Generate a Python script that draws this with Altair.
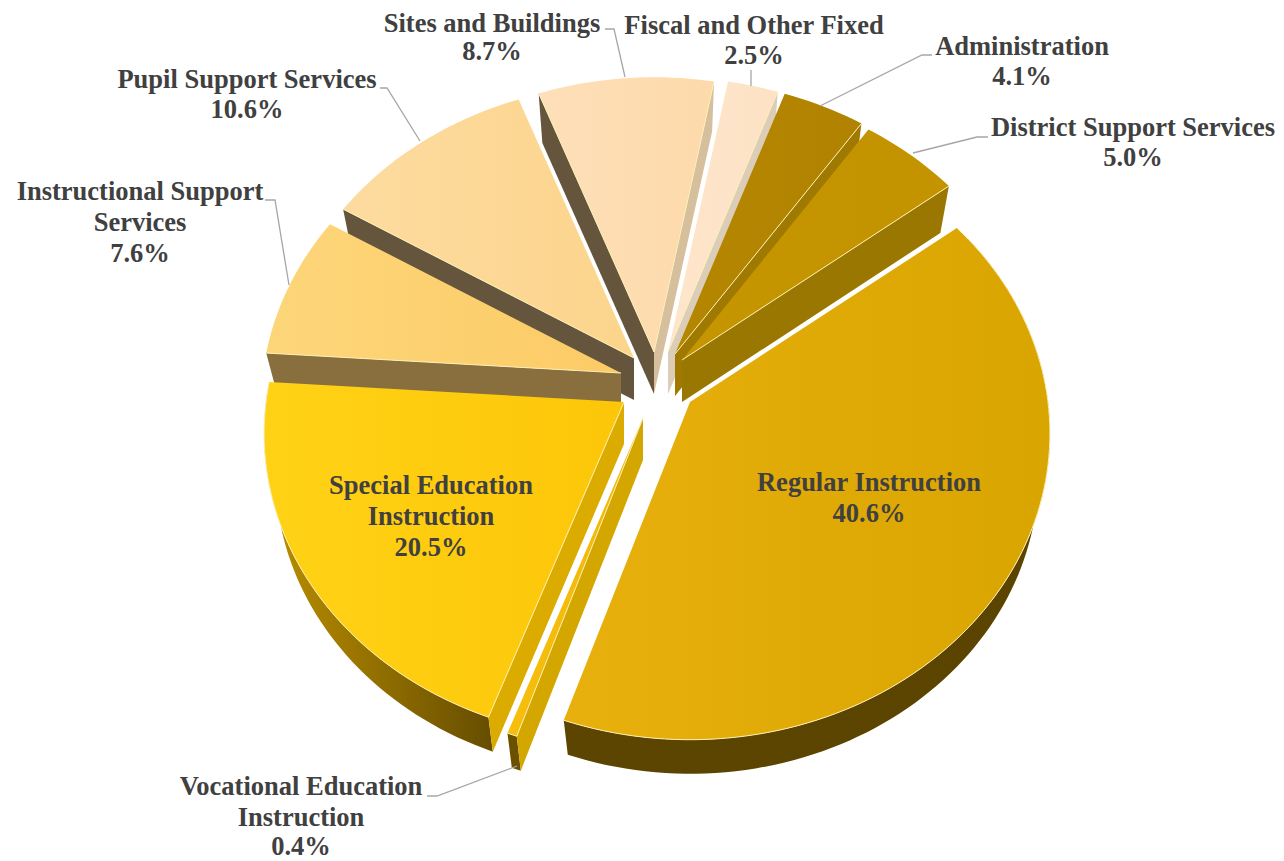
import numpy as np
import pandas as pd
import altair as alt

CATEGORIES = ["Regular Instruction", "Vocational Education Instruction", "Special Education Instruction",
              "Instructional Support Services", "Pupil Support Services", "Sites and Buildings",
              "Fiscal and Other Fixed", "Administration", "District Support Services"]
VALUES = [40.6, 0.4, 20.5, 7.6, 10.6, 8.7, 2.5, 4.1, 5.0]

# layout of the exploded, tilted pie
START = 52.4
R, KR, S = 358.0, 303.0, 0.1028
APEX = [(690, 402), (643, 418), (624, 402), (621, 373), (634, 358), (654, 352), (668, 352), (675, 354), (682, 360)]
PAINT = [5, 6, 7, 8, 4, 3, 2, 1, 0]


def grad(a, b, x2=1, y2=0):
    return alt.Gradient(gradient="linear", x1=0, y1=0, x2=x2, y2=y2,
                        stops=[alt.GradientStop(offset=0, color=a), alt.GradientStop(offset=1, color=b)])


TOP = [("#e8b00d", "#d9a500"), ("#f7bf0c", "#f0b708"), ("#ffd216", "#fdc608"), ("#fdd67a", "#fccb66"),
       ("#fddba0", "#fcd58c"), ("#fedfb9", "#fddaaa"), ("#fee6cc", "#fde2c4"), ("#b58700", "#b08200"),
       ("#c69600", "#c39300")]
# walls: (first edge colour or None, second edge colour or None, rim gradient or None)
WALLS = [(None, None, ("#5c4500", "#5a4400")),
         ("#d4a600", None, ("#6b5000", "#6b5000")),
         ("#dcab00", None, ("#bd9000", "#664d00")),
         ("#8a6f3e", None, None),
         ("#64553c", None, None),
         ("#64553c", "#d6bf9d", None),
         (None, "#dccdb8", None),
         (None, "#a07a00", None),
         (None, "#9a7700", None)]
EDGE = "#fbefb4"

bounds = np.concatenate([[0], np.cumsum(VALUES)]) * 3.6 + START


def top_pt(i, theta, r=1.0):
    t = np.radians(theta)
    u, v = r * np.cos(t), r * np.sin(t)
    d = 1 + S * u
    return APEX[i][0] + R * v / d, APEX[i][1] - KR * u / d, u


def low_pt(i, theta, r=1.0):
    x, y, u = top_pt(i, theta, r)
    return APEX[i][0] + (x - APEX[i][0]) * 0.968, y + 42 + 8 * u


projection = alt.Projection(type="identity", scale=1, translate=[-8, -8])


def poly(points, **style):
    ring = [[float(a), float(b)] for a, b in points]
    ring.append(ring[0])
    feat = {"type": "Feature", "properties": {}, "geometry": {"type": "Polygon", "coordinates": [ring]}}
    return alt.Chart(alt.InlineData(values=[feat])).mark_geoshape(filled=True, strokeWidth=0, **style).project(**projection.to_dict())


def polyline(points, **style):
    pts = [[float(a), float(b)] for a, b in points]
    feat = {"type": "Feature", "properties": {}, "geometry": {"type": "LineString", "coordinates": pts}}
    return alt.Chart(alt.InlineData(values=[feat])).mark_geoshape(filled=False, **style).project(**projection.to_dict())


layers = []
for i in PAINT:
    a0, a1 = bounds[i], bounds[i + 1]
    arc = np.linspace(a0, a1, max(4, int((a1 - a0) / 1.5) + 2))
    tops = [top_pt(i, t)[:2] for t in arc]
    lows = [low_pt(i, t) for t in arc]
    apex_t = (APEX[i][0], APEX[i][1])
    apex_l = low_pt(i, 0, 0.0)
    w0, w1, rim = WALLS[i]
    if rim:
        layers.append(poly(tops + lows[::-1], fill=grad(rim[0], rim[1])))
    if w0:
        layers.append(poly([apex_t, tops[0], lows[0], apex_l], fill=w0))
    if w1:
        layers.append(poly([apex_t, tops[-1], lows[-1], apex_l], fill=w1))
    layers.append(poly([apex_t] + tops, fill=grad(*TOP[i])))
    if rim:
        layers.append(polyline(tops, stroke=EDGE, strokeWidth=1))
    if w0:
        layers.append(polyline([apex_t, tops[0]], stroke=EDGE, strokeWidth=1))
    if w1:
        layers.append(polyline([apex_t, tops[-1]], stroke=EDGE, strokeWidth=1))

x_scale = alt.Scale(domain=[8, 1276], range=[0, 1268])
y_scale = alt.Scale(domain=[8, 861], range=[0, 853])

LEADERS = [[(913, 153), (977, 137), (988, 137)],
           [(820, 106), (922, 55), (932, 55)],
           [(751, 86), (751, 70)],
           [(625, 77), (614, 29), (605, 29)],
           [(420, 141), (387, 88), (380, 88)],
           [(289, 285), (275, 200), (265, 200)],
           [(517, 766), (437, 796), (427, 796)]]
rows = []
for k, pts in enumerate(LEADERS):
    for n, (a, b) in enumerate(pts):
        rows.append({"id": k, "n": n, "x": a, "y": b})
leaders = alt.Chart(pd.DataFrame(rows)).mark_line(stroke="#a6a6a6", strokeWidth=1.3).encode(
    x=alt.X("x:Q", scale=x_scale, axis=None),
    y=alt.Y("y:Q", scale=y_scale, axis=None),
    detail="id:N", order="n:Q")

LABELS = [("District Support Services", 1133, 128), ("5.0%", 1133, 158),
          ("Administration", 1022, 47), ("4.1%", 1022, 77),
          ("Fiscal and Other Fixed", 754, 26), ("2.5%", 754, 56),
          ("Sites and Buildings", 492, 24), ("8.7%", 492, 52),
          ("Pupil Support Services", 247, 80), ("10.6%", 247, 110),
          ("Instructional Support", 140, 192), ("Services", 140, 223), ("7.6%", 140, 254),
          ("Special Education", 431, 486), ("Instruction", 431, 517), ("20.5%", 431, 548),
          ("Regular Instruction", 869, 483), ("40.6%", 869, 514),
          ("Vocational Education", 301, 787), ("Instruction", 301, 818), ("0.4%", 301, 847)]
labels = alt.Chart(pd.DataFrame(LABELS, columns=["t", "x", "y"])).mark_text(
    font="Liberation Serif", fontWeight="bold", fontSize=26.5, color="#404040", baseline="middle", align="center"
).encode(x=alt.X("x:Q", scale=x_scale, axis=None), y=alt.Y("y:Q", scale=y_scale, axis=None), text="t:N")

chart = alt.layer(*layers, leaders, labels).properties(
    width=1268, height=853, padding=0, autosize="none", background="white"
).configure_view(stroke=None)
chart.save("out.html", embed_options={"renderer": "svg", "actions": False})
